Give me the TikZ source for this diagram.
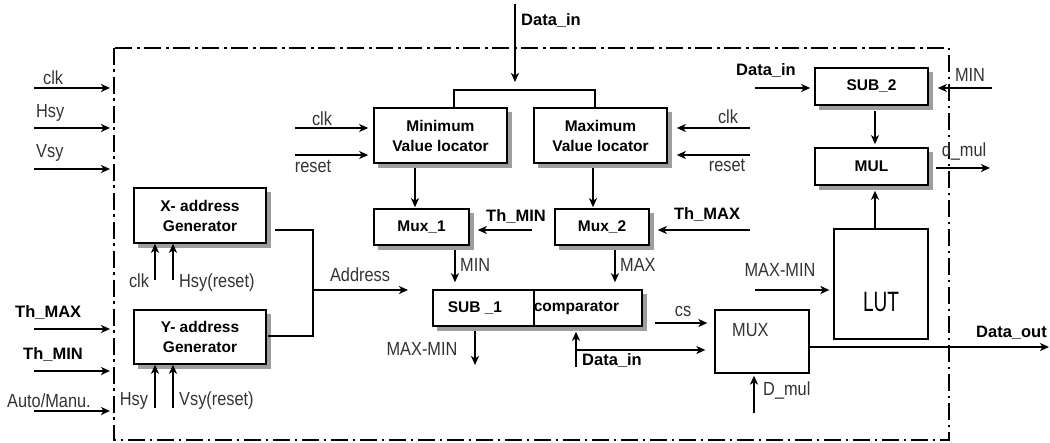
\documentclass[tikz,border=0pt]{standalone}
\usepackage{fontspec}
\setmainfont{Liberation Sans}
\newfontfamily\narrowfont[FakeStretch=0.86]{Liberation Sans}
\newfontfamily\lutfont[FakeStretch=0.68]{Liberation Sans}
\usetikzlibrary{arrows.meta,backgrounds}

\begin{document}
\begin{tikzpicture}
  [
    x=1pt, y=-1pt,
    >={Stealth[length=9pt,width=8pt,inset=2.5pt]},
    blk/.style      = {draw, line width=1.6pt, fill=white, align=center, inner sep=0pt,
                       font=\fontsize{15.5}{20}\selectfont\bfseries},
    shade/.style    = {fill=black!38},
    plainbox/.style = {draw, line width=1.3pt, fill=white, inner sep=0pt},
    lbl/.style      = {font=\narrowfont\fontsize{19}{22}\selectfont, text=black!80, inner sep=0pt},
    blbl/.style     = {font=\fontsize{16.5}{20}\selectfont\bfseries, inner sep=0pt},
    arr/.style      = {->, line width=1.6pt},
    thk/.style      = {->, line width=2.6pt},
    bus/.style      = {line width=2.6pt},
    border/.style   = {line width=1.8pt, dash pattern=on 17pt off 4.5pt on 2.5pt off 5pt},
  ]

\useasboundingbox (0,0) rectangle (1050,443);

%Outer dash-dotted frame
\draw[border] (114,48) rectangle (949,440);

%Blocks
\node[blk, minimum width=132pt, minimum height=55pt] (xgen) at (200,215.5) {X- address\\Generator};
\node[blk, minimum width=132pt, minimum height=54pt] (ygen) at (200,337) {Y- address\\Generator};
\node[blk, minimum width=133pt, minimum height=55pt] (minloc) at (440.5,135.5) {Minimum\\Value locator};
\node[blk, minimum width=133pt, minimum height=55pt] (maxloc) at (600.5,135.5) {Maximum\\Value locator};
\node[blk, minimum width=95pt, minimum height=36pt] (mux1) at (421.5,227) {Mux\_1};
\node[blk, minimum width=94pt, minimum height=36pt] (mux2) at (602,227) {Mux\_2};
\node[blk, minimum width=101pt, minimum height=36pt] (sub1) at (483.5,308) {SUB \_1\hspace*{17pt}};
\node[blk, minimum width=108pt, minimum height=36pt] (comp) at (588,308) {comparator\hspace*{23pt}};
\node[blk, minimum width=113pt, minimum height=37pt] (sub2) at (871.5,86.5) {SUB\_2};
\node[blk, minimum width=113pt, minimum height=37pt] (mul) at (871.5,166.5) {MUL};
\node[plainbox, minimum width=94pt, minimum height=63pt] (mux) at (762,341.5) {};
\node[plainbox, minimum width=94pt, minimum height=110pt] (lut) at (881,284) {};
\node[lbl, anchor=base west] (muxt) at (732,337) {MUX};
\node[font=\lutfont\fontsize{28}{30}\selectfont, anchor=base, inner sep=0pt] (lutt) at (881,312) {LUT};

%Grey shadows of the blocks
\begin{scope}[on background layer]
\foreach \b in {xgen,ygen,minloc,maxloc,mux1,mux2,sub1,comp,sub2,mul}
  \fill[shade] ([shift={(4.5,4.5)}]\b.north west) rectangle ([shift={(4.5,4.5)}]\b.south east);
\end{scope}

%Inputs on the left
\def \xin{34}
\foreach \nm/\yy in {clk/88,hsy/128,vsy/169,thmax/329,thmin/371,auto/411}
{
\coordinate (in\nm) at (\xin,\yy);
\draw[thk] (in\nm) -- ++(76,0);
}
\node[lbl, anchor=base west] (lclk) at (43,85) {clk};
\node[lbl, anchor=base west] (lhsy) at (36,118) {Hsy};
\node[lbl, anchor=base west] (lvsy) at (36,158) {Vsy};
\node[blbl, anchor=base west] (lthmax) at (15,318) {Th\_MAX};
\node[blbl, anchor=base west] (lthmin) at (23,360) {Th\_MIN};
\node[lbl, anchor=base west] (lauto) at (7,408) {Auto/Manu.};

%Address generators
\foreach \g/\yy in {xgen/280,ygen/408}
  \foreach \xx in {155,173}
    \draw[arr] (\xx,\yy) -- (\xx,0 |- \g.south);
\node[lbl, anchor=base] (xclk) at (139,288) {clk};
\node[lbl, anchor=base west] (xrst) at (179,288) {Hsy(reset)};
\node[lbl, anchor=base] (yhsy) at (134,406) {Hsy};
\node[lbl, anchor=base west] (yrst) at (179,406) {Vsy(reset)};

\coordinate (xout) at (275,230);
\coordinate (yout) at (268,336);
\coordinate (addr) at (313,290);
\coordinate (addrend) at (408,290);
\draw[bus] (xout) -- (xout -| addr) -- (addr |- yout) -- (yout);
\draw[thk] (addr) -- (addrend);
\node[lbl, anchor=base] (laddr) at (360,282) {Address};

%Data_in from the top
\coordinate (dtop) at (515,4);
\coordinate (dsplit) at (515,82);
\draw[thk] (dtop) -- (dsplit);
\node[blbl, anchor=base west] (ldtop) at (521,26) {Data\_in};
\draw[bus] (454,0 |- minloc.north) -- (454,90) -| (595,0 |- maxloc.north);

%clk and reset of the locators
\coordinate (mclk) at (295,128);
\coordinate (mrst) at (295,155);
\draw[arr, shorten >=5pt] (mclk) -- (mclk -| minloc.west);
\draw[arr, shorten >=5pt] (mrst) -- (mrst -| minloc.west);
\node[lbl, anchor=base] (lmclk) at (322,126) {clk};
\node[lbl, anchor=base] (lmrst) at (313,173) {reset};
\coordinate (aclk) at (750,128);
\coordinate (arst) at (750,155);
\draw[arr, shorten >=9pt] (aclk) -- (aclk -| maxloc.east);
\draw[arr, shorten >=9pt] (arst) -- (arst -| maxloc.east);
\node[lbl, anchor=base] (laclk) at (728,124) {clk};
\node[lbl, anchor=base] (larst) at (727,172) {reset};

%Locators to muxes
\draw[arr, shorten <=4pt, shorten >=1pt] (415,0 |- minloc.south) -- (415,0 |- mux1.north);
\draw[arr, shorten <=4pt, shorten >=1pt] (593,0 |- maxloc.south) -- (593,0 |- mux2.north);
\coordinate (tmin) at (532,230);
\draw[arr, shorten >=8pt] (tmin) -- (tmin -| mux1.east);
\node[blbl, anchor=base] (ltmin) at (516,222) {Th\_MIN};
\coordinate (tmax) at (750,230);
\draw[arr, shorten >=8pt] (tmax) -- (tmax -| mux2.east);
\node[blbl, anchor=base] (ltmax) at (707,220) {Th\_MAX};

%Muxes to SUB_1 / comparator
\draw[arr, shorten <=4pt, shorten >=7pt] (455,0 |- mux1.south) -- (455,0 |- sub1.north);
\node[lbl, anchor=base west] (lmin) at (460,272) {MIN};
\draw[arr, shorten <=4pt, shorten >=7pt] (615,0 |- mux2.south) -- (615,0 |- comp.north);
\node[lbl, anchor=base west] (lmax) at (620,272) {MAX};

\coordinate (mmdown) at (475,365);
\draw[arr, shorten <=4pt] (mmdown |- sub1.south) -- (mmdown);
\node[lbl, anchor=base] (lmm1) at (422,356) {MAX-MIN};

\coordinate (dlow) at (576,367);
\coordinate (djoin) at (576,350);
\draw[thk, shorten >=5pt] (dlow) -- (dlow |- comp.south);
\draw[thk, shorten >=9pt] (djoin) -- (djoin -| mux.west);
\node[blbl, anchor=base west] (ldlow) at (582,366) {Data\_in};

%MUX
\coordinate (cs) at (655,323);
\draw[arr, shorten >=7pt] (cs) -- (cs -| mux.west);
\node[lbl, anchor=base] (lcs) at (683,317) {cs};
\coordinate (dm) at (754,413);
\draw[arr, shorten >=2pt] (dm) -- (dm |- mux.south);
\node[lbl, anchor=base west] (ldm) at (763,396) {D\_mul};
\coordinate (dout) at (1049,347);
\draw[thk] (dout -| mux.east) -- (dout);
\node[blbl, anchor=base west] (ldout) at (976,338) {Data\_out};

%LUT, SUB_2 and MUL
\coordinate (mm2) at (755,290);
\draw[arr, shorten >=4pt] (mm2) -- (mm2 -| lut.west);
\node[lbl, anchor=base] (lmm2) at (780,277) {MAX-MIN};
\draw[arr, shorten >=5pt] (875,0 |- lut.north) -- (875,0 |- mul.south);
\draw[arr, shorten <=5pt, shorten >=3pt] (875,0 |- sub2.south) -- (875,0 |- mul.north);
\coordinate (d2) at (755,88);
\draw[arr, shorten >=4pt] (d2) -- (d2 -| sub2.west);
\node[blbl, anchor=base] (ld2) at (766,76) {Data\_in};
\coordinate (m2) at (992,88);
\draw[arr, shorten >=9pt] (m2) -- (m2 -| sub2.east);
\node[lbl, anchor=base] (lm2) at (970,82) {MIN};
\coordinate (dmo) at (990,168);
\draw[arr, shorten <=7pt] (dmo -| mul.east) -- (dmo);
\node[lbl, anchor=base] (ldmo) at (964,157) {d\_mul};
\end{tikzpicture}
\end{document}
